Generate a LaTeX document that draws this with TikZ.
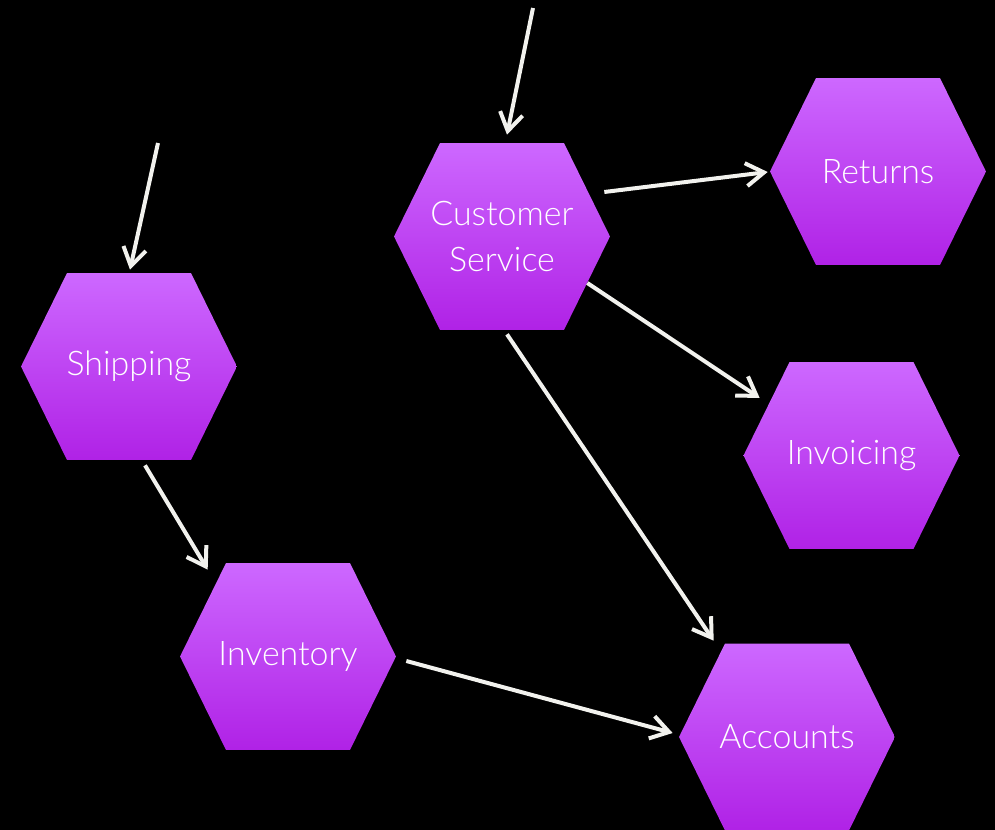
\documentclass[tikz,border=0pt]{standalone}
\usepackage{fontspec}
\setmainfont{Lato}[UprightFont=* Light]
\usetikzlibrary{arrows.meta,calc}

\definecolor{hexTop}{RGB}{205,104,255}
\definecolor{hexBot}{RGB}{176,34,230}
\definecolor{flowWhite}{RGB}{242,242,238}

\tikzset{
  hexa/.style={minimum width=4.32cm, minimum height=3.74cm, inner sep=0pt,
    text=white, align=center, font=\fontsize{19.3}{26.5}\selectfont,
    path picture={\shade[top color=hexTop, bottom color=hexBot]
      ([xshift=0.92cm]path picture bounding box.north west)
      -- ([xshift=-0.92cm]path picture bounding box.north east)
      -- (path picture bounding box.east)
      -- ([xshift=-0.92cm]path picture bounding box.south east)
      -- ([xshift=0.92cm]path picture bounding box.south west)
      -- (path picture bounding box.west) -- cycle;}},
  flow/.style={color=flowWhite, line width=0.08cm,
    -{Straight Barb[length=3.6mm, width=4.6mm]}}
}

\begin{document}
\begin{tikzpicture}[x=0.02cm, y=-0.02cm]
  \fill[black] (0,0) rectangle (995,830);
  \useasboundingbox (0,0) rectangle (995,830);

  \node[hexa] (cs) at (502,236.5) {Customer\\Service};
  \node[hexa] (ret) at (878,171.5) {Returns};
  \node[hexa] (ship) at (129,366.5) {Shipping};
  \node[hexa] (inv) at (851.5,455.5) {Invoicing};
  \node[hexa] (invt) at (288,656.5) {Inventory};
  \node[hexa] (acc) at (787,737) {Accounts};

  \coordinate (csIn) at (533,8);
  \coordinate (shipIn) at (158,143);

  \draw[flow] (csIn) -- ($(cs.north)+(5,-8)$);
  \draw[flow] (shipIn) -- ($(ship.north)+(1,-3)$);
  \draw[flow] ($(cs.east)+(-6,-44.5)$) -- ($(ret.west)+(-2,0.5)$);
  \draw[flow] ($(cs.east)+(-23,46.5)$) -- ($(inv.west)+(16.5,-57.5)$);
  \draw[flow] ($(cs.south)+(5,4)$) -- ($(acc.north west)+(35,-2.5)$);
  \draw[flow] ($(ship.south)+(16,5)$) -- ($(invt.north west)+(28,7)$);
  \draw[flow] ($(invt.east)+(10,4.5)$) -- ($(acc.west)+(-6,-4)$);
\end{tikzpicture}
\end{document}
